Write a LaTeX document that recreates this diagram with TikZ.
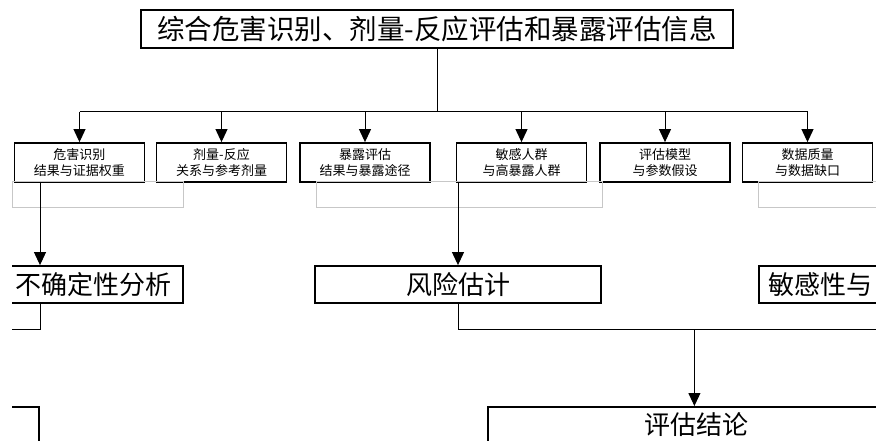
\documentclass[tikz,border=0pt]{standalone}
\usepackage{fontspec}
\setmainfont{Noto Sans CJK SC}
\usetikzlibrary{arrows.meta}
\tikzset{
  box/.style={draw, line width=1.8pt, inner sep=0pt, fill=white},
  bigtxt/.style={font=\fontsize{26}{28}\selectfont},
  titletxt/.style={font=\fontsize{27.5}{29}\selectfont},
  smalltxt/.style={font=\fontsize{13}{15.5}\selectfont, align=center},
  conn/.style={draw, line width=1pt},
  arr/.style={conn, -{Triangle[length=13pt,width=12pt]}},
  ghost/.style={draw=black!22, line width=1pt}
}
\begin{document}
\begin{tikzpicture}[x=1pt,y=-1pt]
\useasboundingbox (0,0) rectangle (876,441);
\clip (12,0) rectangle (876,441);
% top box
\node[box, titletxt, minimum width=592pt, minimum height=38pt] (top) at (437,29) {综合危害识别、剂量-反应评估和暴露评估信息};
\coordinate (bus) at (437,112);
% six input boxes
\foreach \n/\cx/\t in {b1/79.5/{危害识别\\结果与证据权重}, b2/221.5/{剂量-反应\\关系与参考剂量}, b3/365/{暴露评估\\结果与暴露途径}, b4/521.5/{敏感人群\\与高暴露人群}, b5/665/{评估模型\\与参数假设}, b6/807.5/{数据质量\\与数据缺口}}{
  \node[box, smalltxt, minimum width=130pt, minimum height=39pt] (\n) at (\cx,162.5) {\t};
}
% ghost rectangles
\draw[ghost] (12,182) rectangle (183,207);
\draw[ghost] (316,182) rectangle (602,207);
\draw[ghost] (758,182) rectangle (890,207);
% bus lines
\draw[conn] (top.south) -- (bus);
\draw[conn] (b1.north |- bus) -- (b6.north |- bus);
\foreach \n in {b1,b2,b3,b4,b5,b6}{
  \draw[arr] (\n.north |- bus) -- (\n.north);
}
% lower boxes
\node[box, bigtxt, minimum width=179pt, minimum height=37pt] (u) at (93.5,284.5) {不确定性分析};
\node[box, bigtxt, minimum width=286pt, minimum height=37pt] (r) at (458,284.5) {风险估计};
\node[box, minimum width=140pt, minimum height=37pt, anchor=west] (s) at (758,284.5) {};
\node[bigtxt, anchor=west, inner sep=0pt] (st) at ([xshift=10pt]s.west) {敏感性与};
\coordinate (s1) at (40,182);
\coordinate (s2) at (458,182);
\draw[arr] (s1) -- (s1 |- u.north);
\draw[arr] (s2) -- (r.north);
% conclusion box
\node[box, anchor=north west, minimum width=413pt, minimum height=60pt] (c) at (487,406) {};
\node[bigtxt] (ct) at (696,425) {评估结论};
\node[box, anchor=north east, minimum width=60pt, minimum height=60pt] (bl) at (40,406) {};
% lower connectors
\coordinate (ul) at (0,329);
\coordinate (rr) at (900,329);
\draw[conn] (s1 |- u.south) -- (s1 |- ul) -- (ul);
\draw[conn] (r.south) -- (r.south |- rr) -- (rr);
\coordinate (j) at (c.north |- rr);
\draw[arr] (j) -- (c.north);
\end{tikzpicture}
\end{document}
